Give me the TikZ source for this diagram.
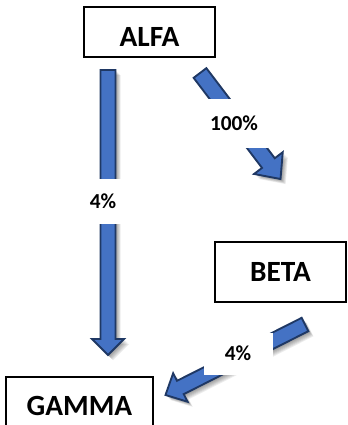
\documentclass[tikz,border=0pt]{standalone}
\usepackage{fontspec}
\setmainfont{Carlito}
\usetikzlibrary{calc}
\definecolor{arrowfill}{HTML}{4472C4}
\definecolor{arrowline}{HTML}{1F3864}
\tikzset{
  boxnode/.style={draw=black, line width=1.2pt, fill=white, inner sep=0pt, font=\fontsize{22}{26}\selectfont\bfseries},
  pctlabel/.style={fill=white, inner sep=0pt, font=\fontsize{16}{19}\selectfont\bfseries},
  arrowbody/.style={fill=arrowfill, draw=arrowline, line width=1.4pt, line join=miter},
  arrowshadow/.style={fill=black, opacity=0.07, draw=none}
}
% #1 start, #2 end, #3 shaft half width, #4 head half width, #5 head length
\newcommand\blockarrowpath[5]{%
  ($(#1)!#3!90:(#2)$) -- ($(#2-hb)!#3!90:(#2)$) -- ($(#2-hb)!#4!90:(#2)$) -- (#2)
  -- ($(#2-hb)!#4!-90:(#2)$) -- ($(#2-hb)!#3!-90:(#2)$) -- ($(#1)!#3!-90:(#2)$) -- cycle}
\newcommand\blockarrow[5]{%
  \coordinate (#2-hb) at ($(#2)!#5!(#1)$);
  \foreach \k in {1,...,7}{
    \path[arrowshadow, transform canvas={shift={(\k*0.55pt,-\k*0.55pt)}}] \blockarrowpath{#1}{#2}{#3}{#4}{#5};
  }
  \path[arrowbody] \blockarrowpath{#1}{#2}{#3}{#4}{#5};
}
\begin{document}
\begin{tikzpicture}[x=0.75pt, y=-0.75pt]
\useasboundingbox (0,0) rectangle (347,425);
\begin{scope}
\clip (0,0) rectangle (347,425);
% arrow end points
\coordinate (a1s) at (108,70);
\coordinate (a1e) at (108,355);
\coordinate (a2s) at (200,73);
\coordinate (a2e) at (280.5,179);
\coordinate (a3s) at (305,324.5);
\coordinate (a3e) at (165.5,395);
\blockarrow{a1s}{a1e}{5.6pt}{12pt}{12pt}
\blockarrow{a2s}{a2e}{6pt}{13.5pt}{15pt}
\blockarrow{a3s}{a3e}{5.6pt}{12pt}{12.5pt}
% labels
\node[pctlabel, minimum width=37.5pt, minimum height=33.75pt] (l1) at (103,201) {4\%};
\node[pctlabel, minimum width=51pt, minimum height=36.75pt] (l2) at (234,123) {100\%};
\node[pctlabel, minimum width=51.75pt, minimum height=31.5pt] (l3) at (238,353.5) {4\%};
% boxes
\node[boxnode, minimum width=98.25pt, minimum height=37.5pt, text height=21.7pt, text depth=0pt] (alfa) at (149.5,32) {ALFA};
\node[boxnode, minimum width=98.25pt, minimum height=45pt] (beta) at (280.5,272) {BETA};
\node[boxnode, minimum width=110.25pt, minimum height=42.75pt] (gamma) at (79.5,405.5) {GAMMA};
\end{scope}
\end{tikzpicture}
\end{document}
